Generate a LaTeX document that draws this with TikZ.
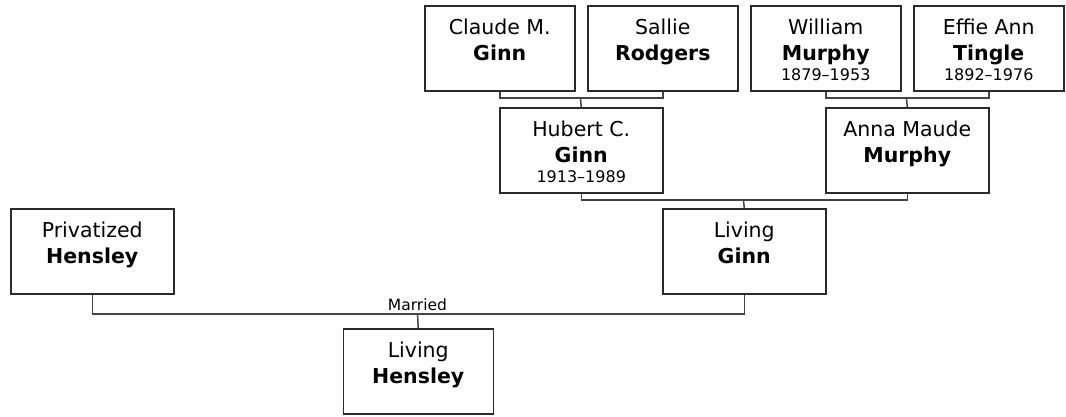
\documentclass[tikz,border=0pt]{standalone}
\usepackage{fontspec}
\setmainfont{DejaVu Sans}
\usepackage{tikz}
\definecolor{FTBox}{HTML}{2A2A2A}
\definecolor{FTLine}{HTML}{444444}
\begin{document}
\begin{tikzpicture}[x=1pt,y=-1pt,
  person/.style={draw=FTBox,line width=1.5pt,minimum height=85pt,inner sep=0pt,anchor=north west},
  small/.style={person,minimum width=150pt},
  wide/.style={person,minimum width=163pt},
  who/.style={anchor=north,align=center,inner sep=0pt,font=\fontsize{20.5}{26}\selectfont},
  link/.style={draw=FTLine,line width=1.5pt}]
\path[use as bounding box] (0,0) rectangle (1066,416);
\fill[white] (0,0) rectangle (1066,416);
% grandparents
\node[small] (claude) at (424,5) {};
\node[small] (sallie) at (587,5) {};
\node[small] (william) at (750,5) {};
\node[small] (effie) at (913,5) {};
% parents
\node[wide] (hubert) at (499,107) {};
\node[wide] (anna) at (825,107) {};
\node[wide] (privatized) at (10,208) {};
\node[wide] (livingginn) at (662,208) {};
\node[small] (livinghensley) at (342.5,328) {};
% names
\node[who] (claudeT) at ([yshift=-14pt]claude.north) {Claude M.\\\textbf{Ginn}};
\node[who] (sallieT) at ([yshift=-14pt]sallie.north) {Sallie\\\textbf{Rodgers}};
\node[who] (williamT) at ([yshift=-14pt]william.north) {William\\\textbf{Murphy}\\[-6pt]{\fontsize{16}{18}\selectfont 1879–1953}};
\node[who] (effieT) at ([yshift=-14pt]effie.north) {Effie Ann\\\textbf{Tingle}\\[-6pt]{\fontsize{16}{18}\selectfont 1892–1976}};
\node[who] (hubertT) at ([yshift=-14pt]hubert.north) {Hubert C.\\\textbf{Ginn}\\[-6pt]{\fontsize{16}{18}\selectfont 1913–1989}};
\node[who] (annaT) at ([yshift=-14pt]anna.north) {Anna Maude\\\textbf{Murphy}};
\node[who] (privatizedT) at ([yshift=-14pt]privatized.north) {Privatized\\\textbf{Hensley}};
\node[who] (livingginnT) at ([yshift=-14pt]livingginn.north) {Living\\\textbf{Ginn}};
\node[who] (livinghensleyT) at ([yshift=-14pt]livinghensley.north) {Living\\\textbf{Hensley}};
% connectors
\coordinate (ginnjoin) at (580.5,98);
\coordinate (murphyjoin) at (906.5,98);
\coordinate (parentjoin) at (743.5,200);
\coordinate (marriedjoin) at (417.5,314);
\draw[link] (claude.south) |- (ginnjoin) -| (sallie.south);
\draw[link] (ginnjoin) -- (hubert.north);
\draw[link] (william.south) |- (murphyjoin) -| (effie.south);
\draw[link] (murphyjoin) -- (anna.north);
\draw[link] (hubert.south) |- (parentjoin) -| (anna.south);
\draw[link] (parentjoin) -- (livingginn.north);
\draw[link] (privatized.south) |- (marriedjoin) -| (livingginn.south);
\draw[link] (marriedjoin) -- (livinghensley.north);
\node[anchor=south,inner sep=0pt,font=\fontsize{15.5}{17}\selectfont] (married) at ([yshift=3pt]marriedjoin) {Married};
\end{tikzpicture}
\end{document}
